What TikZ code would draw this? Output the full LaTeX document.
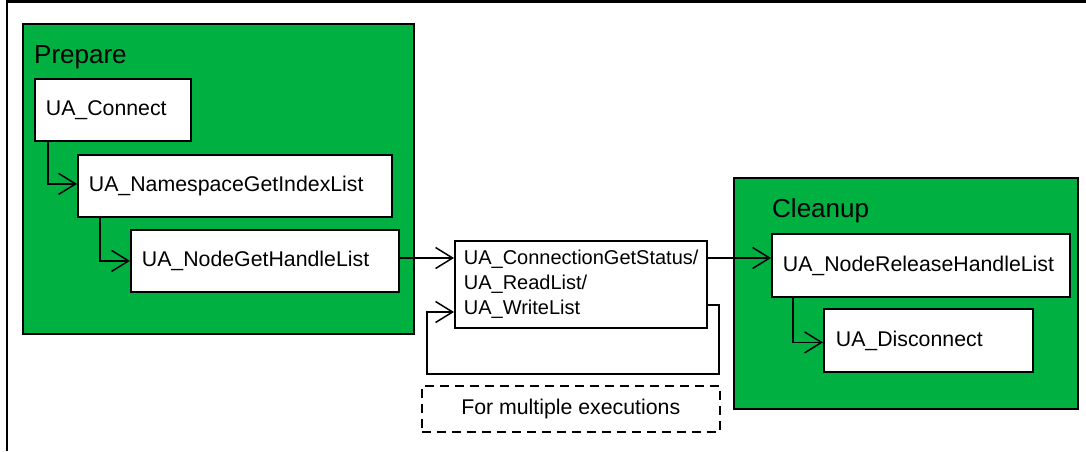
\documentclass[tikz,border=0pt]{standalone}
\usepackage{fontspec}
\setmainfont{Liberation Sans}
\usetikzlibrary{arrows.meta}
\definecolor{grp}{RGB}{0,176,64}
\tikzset{
  boxtext/.style={font=\fontsize{21.3}{25}\selectfont},
  fnbox/.style={draw=black, fill=white, line width=1.8pt, rectangle, anchor=north west,
    inner xsep=11pt, inner ysep=0pt, align=left, boxtext},
  group/.style={draw=black, fill=grp, line width=1.8pt, rectangle, anchor=north west, inner sep=0pt},
  heading/.style={anchor=base west, inner sep=0pt, font=\fontsize{26}{30}\selectfont},
  arr/.style={line width=1.5pt, -{Straight Barb[length=17pt,width=21pt,line width=1.5pt]}},
  note/.style={draw=black, dashed, dash pattern=on 9pt off 6pt, line width=1.5pt, rectangle,
    anchor=north west, inner sep=0pt, boxtext},
}
\begin{document}
\begin{tikzpicture}[x=1pt,y=-1pt]
\useasboundingbox (0,0) rectangle (1086,451);
% outer frame (top and left)
\coordinate (ftl) at (7,1.5);
\coordinate (ftr) at (1086,1.5);
\coordinate (fbl) at (7,451);
\draw[line width=2.2pt] (ftr) -- (ftl) -- (fbl);

% groups
\node[group, minimum width=391pt, minimum height=310pt] (prep) at (22,23) {};
\node[heading] (preplbl) at (34,63) {Prepare};
\node[group, minimum width=344pt, minimum height=231pt] (clean) at (733,177) {};
\node[heading] (cleanlbl) at (772,217) {Cleanup};

% function boxes
\node[fnbox, minimum width=156pt, minimum height=62pt, text width=134pt] (conn) at (34,78) {UA\_Connect};
\node[fnbox, minimum width=314pt, minimum height=62pt, text width=292pt] (ns) at (77,154) {UA\_NamespaceGetIndexList};
\node[fnbox, minimum width=268pt, minimum height=62pt, text width=246pt] (ngh) at (130,229) {UA\_NodeGetHandleList};
\node[fnbox, inner xsep=9pt, minimum width=252pt, minimum height=87pt, text width=234pt,
  font=\fontsize{20}{25}\selectfont] (mid) at (454,240)
  {\rule{0pt}{4pt}UA\_ConnectionGetStatus/\\UA\_ReadList/\\UA\_WriteList};
\node[fnbox, minimum width=298pt, minimum height=63pt, text width=276pt] (rel) at (771,233) {UA\_NodeReleaseHandleList};
\node[fnbox, inner xsep=12pt, minimum width=209pt, minimum height=63pt, text width=185pt] (disc) at (823,308) {UA\_Disconnect};

\node[note, minimum width=298pt, minimum height=46pt] (multi) at (421,385) {For multiple executions};

% connectors
\coordinate (yline) at (0,258);
\coordinate (lr) at (719,374);
\coordinate (ll) at (427,374);
\draw[arr] ([xshift=14pt]conn.south west) |- ([yshift=2pt]ns.west);
\draw[arr] ([xshift=23pt]ns.south west) |- (ngh.west);
\draw[arr] (ngh.east |- yline) -- (mid.west |- yline);
\draw[arr] (mid.east |- yline) -- (rel.west |- yline);
\draw[arr] ([yshift=-65pt]mid.north east) -| (lr) -- (ll) |- ([yshift=-72pt]mid.north west);
\draw[arr] ([xshift=22pt]rel.south west) |- ([yshift=-2pt]disc.west);
\end{tikzpicture}
\end{document}
